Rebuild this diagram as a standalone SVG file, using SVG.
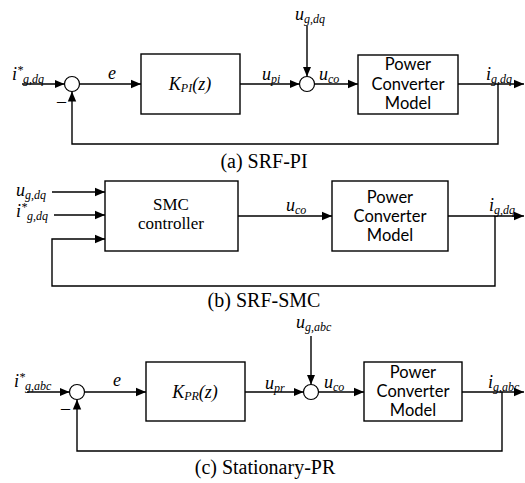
<svg xmlns="http://www.w3.org/2000/svg" width="525" height="483" viewBox="0 0 525 483">
<style>
.ln{fill:none;stroke:#000;stroke-width:1.4}
.bx{fill:#fff;stroke:#000;stroke-width:1.4}
.ci{fill:#fff;stroke:#000;stroke-width:1.2}
.it{font-family:"Liberation Serif","Times New Roman","DejaVu Serif",serif;font-style:italic;font-size:18px;fill:#000}
.sb{font-size:12px}
.bt{font-family:Lato,"Liberation Sans",sans-serif;font-size:16.5px;fill:#000;text-anchor:middle}
.st{font-family:"Liberation Serif","Times New Roman","DejaVu Serif",serif;font-size:17px;fill:#000;text-anchor:middle}
.cap{font-family:"Liberation Serif","Times New Roman","DejaVu Serif",serif;font-size:20px;fill:#000;text-anchor:middle}
</style>
<defs>
<marker id="ar" markerUnits="userSpaceOnUse" markerWidth="10" markerHeight="10" viewBox="0 0 10 10" refX="10" refY="5" orient="auto">
<path d="M0,0.8 L10,5 L0,9.2 Z" fill="#000"/>
</marker>
</defs>

<g id="connectors">
<!-- (a) -->
<line class="ln" x1="22" y1="84" x2="64.5" y2="84" marker-end="url(#ar)"/>
<line class="ln" x1="79.5" y1="84" x2="141" y2="84" marker-end="url(#ar)"/>
<line class="ln" x1="240" y1="84" x2="299.5" y2="84" marker-end="url(#ar)"/>
<line class="ln" x1="307" y1="26" x2="307" y2="76.5" marker-end="url(#ar)"/>
<line class="ln" x1="314.5" y1="84" x2="358" y2="84" marker-end="url(#ar)"/>
<line class="ln" x1="458" y1="84" x2="524" y2="84" marker-end="url(#ar)"/>
<polyline class="ln" points="498,84 498,144 72,144 72,91.5" marker-end="url(#ar)"/>
<!-- (b) -->
<line class="ln" x1="52" y1="192" x2="105" y2="192" marker-end="url(#ar)"/>
<line class="ln" x1="54" y1="215" x2="105" y2="215" marker-end="url(#ar)"/>
<line class="ln" x1="238" y1="216" x2="332" y2="216" marker-end="url(#ar)"/>
<line class="ln" x1="448" y1="216" x2="524" y2="216" marker-end="url(#ar)"/>
<polyline class="ln" points="495,216 495,286 52,286 52,239 105,239" marker-end="url(#ar)"/>
<!-- (c) -->
<line class="ln" x1="27" y1="392" x2="69.5" y2="392" marker-end="url(#ar)"/>
<line class="ln" x1="84.5" y1="392" x2="146" y2="392" marker-end="url(#ar)"/>
<line class="ln" x1="245" y1="392" x2="303.5" y2="392" marker-end="url(#ar)"/>
<line class="ln" x1="311" y1="336" x2="311" y2="384.5" marker-end="url(#ar)"/>
<line class="ln" x1="318.5" y1="392" x2="364" y2="392" marker-end="url(#ar)"/>
<line class="ln" x1="462" y1="392" x2="524" y2="392" marker-end="url(#ar)"/>
<polyline class="ln" points="502,392 502,451 77,451 77,399.5" marker-end="url(#ar)"/>
</g>

<!-- (a) SRF-PI -->
<g id="a-sum1"><circle class="ci" cx="72" cy="84" r="7.5"/></g>
<g id="a-kpi"><rect class="bx" x="141" y="54" width="99" height="60"/>
<text class="it" x="190" y="90" text-anchor="middle">K<tspan class="sb" dy="2">PI</tspan><tspan dy="-2">(z)</tspan></text></g>
<g id="a-sum2"><circle class="ci" cx="307" cy="84" r="7.5"/></g>
<g id="a-plant"><rect class="bx" x="358" y="55" width="100" height="59"/>
<text class="bt" x="408" y="70">Power</text><text class="bt" x="408" y="90">Converter</text><text class="bt" x="408" y="109">Model</text></g>
<g id="a-labels">
<text class="it" x="12" y="80">i<tspan class="sb" dy="-6">*</tspan><tspan class="sb" dy="9">g,dq</tspan></text>
<text class="it" x="57" y="107" style="font-style:normal">–</text>
<text class="it" x="108" y="79">e</text>
<text class="it" x="262" y="80">u<tspan class="sb" dy="3">pi</tspan></text>
<text class="it" x="295" y="20">u<tspan class="sb" dy="3">g,dq</tspan></text>
<text class="it" x="319" y="80">u<tspan class="sb" dy="3">co</tspan></text>
<text class="it" x="486" y="80">i<tspan class="sb" dy="3">g,dq</tspan></text>
</g>
<text class="cap" x="264" y="168">(a) SRF-PI</text>

<!-- (b) SRF-SMC -->
<g id="b-smc"><rect class="bx" x="105" y="181" width="133" height="70"/>
<text class="st" x="171" y="210">SMC</text><text class="st" x="171" y="229">controller</text></g>
<g id="b-plant"><rect class="bx" x="332" y="181" width="116" height="70"/>
<text class="bt" x="390" y="203">Power</text><text class="bt" x="390" y="222">Converter</text><text class="bt" x="390" y="241">Model</text></g>
<g id="b-labels">
<text class="it" x="16" y="196">u<tspan class="sb" dy="3">g,dq</tspan></text>
<text class="it" x="16" y="217">i<tspan class="sb" dy="-6">*</tspan><tspan class="sb" dy="9">g,dq</tspan></text>
<text class="it" x="286" y="211">u<tspan class="sb" dy="3">co</tspan></text>
<text class="it" x="489" y="211">i<tspan class="sb" dy="3">g,dq</tspan></text>
</g>
<text class="cap" x="264" y="307">(b) SRF-SMC</text>

<!-- (c) Stationary-PR -->
<g id="c-sum1"><circle class="ci" cx="77" cy="392" r="7.5"/></g>
<g id="c-kpr"><rect class="bx" x="146" y="362" width="99" height="59"/>
<text class="it" x="195" y="398" text-anchor="middle">K<tspan class="sb" dy="2">PR</tspan><tspan dy="-2">(z)</tspan></text></g>
<g id="c-sum2"><circle class="ci" cx="311" cy="392" r="7.5"/></g>
<g id="c-plant"><rect class="bx" x="364" y="362" width="98" height="59"/>
<text class="bt" x="413" y="378">Power</text><text class="bt" x="413" y="397">Converter</text><text class="bt" x="413" y="416">Model</text></g>
<g id="c-labels">
<text class="it" x="14" y="387">i<tspan class="sb" dy="-6">*</tspan><tspan class="sb" dy="9">g,abc</tspan></text>
<text class="it" x="61" y="414" style="font-style:normal">–</text>
<text class="it" x="113" y="386">e</text>
<text class="it" x="265" y="389">u<tspan class="sb" dy="3">pr</tspan></text>
<text class="it" x="296" y="328">u<tspan class="sb" dy="3">g,abc</tspan></text>
<text class="it" x="324" y="388">u<tspan class="sb" dy="3">co</tspan></text>
<text class="it" x="488" y="388">i<tspan class="sb" dy="3">g,abc</tspan></text>
</g>
<text class="cap" x="265" y="474">(c) Stationary-PR</text>
</svg>
